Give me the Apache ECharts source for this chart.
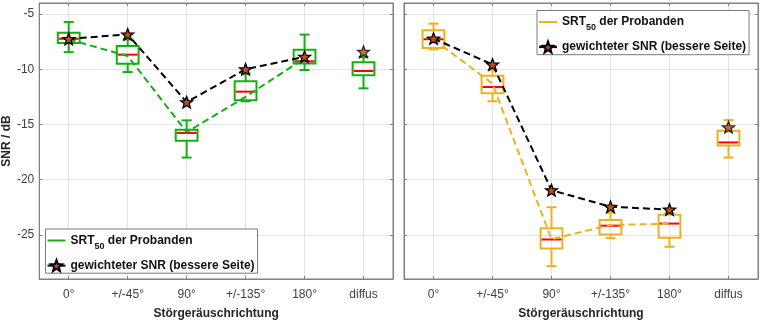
<!DOCTYPE html>
<html><head><meta charset="utf-8">
<script src="https://cdn.jsdelivr.net/npm/echarts@6/dist/echarts.min.js"></script>
<style>html,body{margin:0;padding:0;background:#fff}#c{width:761px;height:325px}</style>
</head><body><div id="c"></div>
<script>
const categories = ['0°', '+/-45°', '90°', '+/-135°', '180°', 'diffus'];
const yTicks = [-25, -20, -15, -10, -5];
const xTicks = [1, 2, 3, 4, 5, 6];

// left panel (green boxes)
const leftMin = [-8.45, -10.25, -18.0, -12.9, -10.07, -11.73];
const leftQ1  = [-7.62, -9.5, -16.48, -12.82, -9.47, -10.55];
const leftMed = [-7.24, -8.68, -15.77, -12.03, -9.28, -10.16];
const leftQ3  = [-6.7, -7.9, -15.47, -11.09, -8.23, -9.36];
const leftMax = [-5.72, -7.3, -14.63, -10.4, -6.86, -8.9];
const leftMean = [-7.3, -8.8, -15.7, -12.5, -9.0];
const leftStar = [-7.25, -6.84, -12.98, -10.0, -8.87, -8.41];

// right panel (orange boxes)
const rightMin = [-8.2, -12.9, -27.84, -25.3, -26.08, -18.0];
const rightQ1  = [-8.08, -12.18, -26.23, -24.97, -25.27, -16.9];
const rightMed = [-7.28, -11.61, -25.42, -24.17, -23.98, -16.63];
const rightQ3  = [-6.47, -10.6, -24.4, -23.66, -23.18, -15.58];
const rightMax = [-5.87, -10.08, -22.5, -23.0, -23.0, -14.6];
const rightMean = [-7.3, -11.3, -25.4, -24.1, -24.0];
const rightStar = [-7.22, -9.57, -20.95, -22.46, -22.71, -15.26];

const GREEN = '#12b012';
const ORANGE = '#EDB120';
const STAR_FILL = '#c0501a';
const FONT = 'Liberation Sans';

function starPath() {
  const pts = [];
  for (let k = 0; k < 10; k++) {
    const r = k % 2 ? 21 : 50;
    const a = -Math.PI / 2 + k * Math.PI / 5;
    pts.push((50 + r * Math.cos(a)).toFixed(2) + ',' + (50 + r * Math.sin(a)).toFixed(2));
  }
  return 'path://M' + pts.join('L') + 'Z';
}
const STAR = starPath();

function boxData(mn, q1, md, q3, mx) {
  return mn.map((v, i) => [xTicks[i], v, q1[i], md[i], q3[i], mx[i]]);
}
function pairs(arr) { return arr.map((v, i) => [xTicks[i], v]); }

function makeBoxRender(color) {
  return function (params, api) {
    const x = api.value(0);
    const lo = api.coord([x, api.value(1)]);
    const q1 = api.coord([x, api.value(2)]);
    const md = api.coord([x, api.value(3)]);
    const q3 = api.coord([x, api.value(4)]);
    const hi = api.coord([x, api.value(5)]);
    const band = api.size([1, 0])[0];
    const hw = band * 0.185, cw = band * 0.085;
    const cx = q1[0];
    const st = { stroke: color, lineWidth: 2 };
    return {
      type: 'group', children: [
        { type: 'line', shape: { x1: cx, y1: q3[1], x2: cx, y2: hi[1] }, style: st },
        { type: 'line', shape: { x1: cx, y1: q1[1], x2: cx, y2: lo[1] }, style: st },
        { type: 'line', shape: { x1: cx - cw, y1: hi[1], x2: cx + cw, y2: hi[1] }, style: st },
        { type: 'line', shape: { x1: cx - cw, y1: lo[1], x2: cx + cw, y2: lo[1] }, style: st },
        { type: 'rect', shape: { x: cx - hw, y: q3[1], width: 2 * hw, height: q1[1] - q3[1] }, style: { stroke: color, lineWidth: 2, fill: 'rgba(0,0,0,0)' } },
        { type: 'line', shape: { x1: cx - hw + 1, y1: md[1], x2: cx + hw - 1, y2: md[1] }, style: { stroke: '#ff0000', lineWidth: 2 } }
      ]
    };
  };
}

const AXIS_COLOR = '#808080';
const GRID_COLOR = '#e4e4e4';

function xAxes(gi) {
  return [
    {
      gridIndex: gi, type: 'value', min: 0.5, max: 6.5, position: 'bottom',
      axisLine: { show: true, onZero: false, lineStyle: { color: AXIS_COLOR, width: 1 } },
      axisTick: { show: true, inside: true, length: 3, customValues: xTicks, lineStyle: { color: AXIS_COLOR } },
      axisLabel: { customValues: xTicks, formatter: v => categories[Math.round(v) - 1], margin: 10, fontSize: 12, fontFamily: FONT, color: '#404040' },
      splitLine: { show: true, lineStyle: { color: GRID_COLOR, width: 1 } },
      name: 'Störgeräuschrichtung', nameLocation: 'middle', nameGap: 29,
      nameTextStyle: { fontSize: 12, fontWeight: 'bold', fontFamily: FONT, color: '#262626' }
    },
    {
      gridIndex: gi, type: 'value', min: 0.5, max: 6.5, position: 'top',
      axisLine: { show: true, onZero: false, lineStyle: { color: AXIS_COLOR, width: 1 } },
      axisTick: { show: true, inside: true, length: 3, customValues: xTicks, lineStyle: { color: AXIS_COLOR } },
      axisLabel: { show: false }, splitLine: { show: false }
    }
  ];
}
function yAxes(gi, withLabels) {
  const main = {
    gridIndex: gi, type: 'value', min: -29, max: -4, position: 'left',
    axisLine: { show: true, onZero: false, lineStyle: { color: AXIS_COLOR, width: 1 } },
    axisTick: { show: true, inside: true, length: 3, customValues: yTicks, lineStyle: { color: AXIS_COLOR } },
    axisLabel: { show: withLabels, customValues: yTicks, margin: 5, fontSize: 12, fontFamily: FONT, color: '#404040' },
    splitLine: { show: true, lineStyle: { color: GRID_COLOR, width: 1 } }
  };
  if (withLabels) {
    main.name = 'SNR / dB';
    main.nameLocation = 'middle';
    main.nameGap = 20;
    main.nameTextStyle = { fontSize: 12, fontWeight: 'bold', fontFamily: FONT, color: '#262626' };
  }
  return [main, {
    gridIndex: gi, type: 'value', min: -29, max: -4, position: 'right',
    axisLine: { show: true, onZero: false, lineStyle: { color: AXIS_COLOR, width: 1 } },
    axisTick: { show: true, inside: true, length: 3, customValues: yTicks, lineStyle: { color: AXIS_COLOR } },
    axisLabel: { show: false }, splitLine: { show: false }
  }];
}

function panelSeries(suffix, xi, yi, color, mn, q1, md, q3, mx, mean, star) {
  const starStyle = { color: STAR_FILL, borderColor: '#000', borderWidth: 1.3 };
  return [
    {
      name: 'box' + suffix, type: 'custom', xAxisIndex: xi, yAxisIndex: yi,
      renderItem: makeBoxRender(color), encode: { x: 0, y: [1, 2, 3, 4, 5] },
      data: boxData(mn, q1, md, q3, mx), silent: true, z: 2
    },
    {
      name: 'SRT' + suffix, type: 'line', xAxisIndex: xi, yAxisIndex: yi,
      data: pairs(mean), symbol: 'none', z: 3,
      lineStyle: { color: color, width: 2, type: [7, 4] }, itemStyle: { color: color }
    },
    {
      name: 'gew' + suffix, type: 'line', xAxisIndex: xi, yAxisIndex: yi,
      data: pairs(star.slice(0, 5)), symbol: STAR, symbolSize: [12, 11.5], showSymbol: true, z: 4,
      lineStyle: { color: '#000', width: 2, type: [7, 4] }, itemStyle: starStyle
    },
    {
      name: 'gew' + suffix, type: 'scatter', xAxisIndex: xi, yAxisIndex: yi,
      data: [[xTicks[5], star[5]]], symbol: STAR, symbolSize: [12, 11.5], z: 4, itemStyle: starStyle
    }
  ];
}

function legendFor(suffix, left, top) {
  return {
    orient: 'vertical', left: left, top: top,
    padding: [1, 3, 1, 1], itemGap: 8, itemWidth: 18, itemHeight: 14,
    backgroundColor: '#fff', borderColor: '#7a7a7a', borderWidth: 1,
    data: [
      { name: 'SRT' + suffix, lineStyle: { type: 'solid' }, itemStyle: { color: 'rgba(0,0,0,0)', borderWidth: 0, opacity: 0 } },
      { name: 'gew' + suffix, lineStyle: { type: 'solid' } }
    ],
    formatter: function (name) {
      if (name.indexOf('SRT') === 0) return '{a|SRT}{s|50}{a| der Probanden}';
      return '{g|gewichteter SNR (bessere Seite)}';
    },
    textStyle: {
      fontFamily: FONT, fontSize: 12, fontWeight: 'bold', color: '#111',
      rich: {
        a: { fontFamily: FONT, fontSize: 12, fontWeight: 'bold', color: '#111', lineHeight: 21 },
        s: { fontFamily: FONT, fontSize: 9, fontWeight: 'bold', color: '#111', lineHeight: 9, padding: [12, 0, 0, 0] },
        g: { fontFamily: FONT, fontSize: 12, fontWeight: 'bold', color: '#111', lineHeight: 16 }
      }
    },
    selectedMode: false
  };
}

const chart = echarts.init(document.getElementById('c'), null, { renderer: 'canvas' });
chart.setOption({
  animation: false,
  backgroundColor: '#fff',
  grid: [
    { left: 38, top: 3, width: 355, height: 278, show: true, borderColor: AXIS_COLOR, borderWidth: 1, backgroundColor: '#fff' },
    { left: 404, top: 3, width: 354, height: 278, show: true, borderColor: AXIS_COLOR, borderWidth: 1, backgroundColor: '#fff' }
  ],
  xAxis: [...xAxes(0), ...xAxes(1)],
  yAxis: [...yAxes(0, true), ...yAxes(1, false)],
  legend: [legendFor('_L', 45.5, 229), legendFor('_R', 537, 10.5)],
  series: [
    ...panelSeries('_L', 0, 0, GREEN, leftMin, leftQ1, leftMed, leftQ3, leftMax, leftMean, leftStar),
    ...panelSeries('_R', 2, 2, ORANGE, rightMin, rightQ1, rightMed, rightQ3, rightMax, rightMean, rightStar)
  ]
});
</script>
</body></html>
